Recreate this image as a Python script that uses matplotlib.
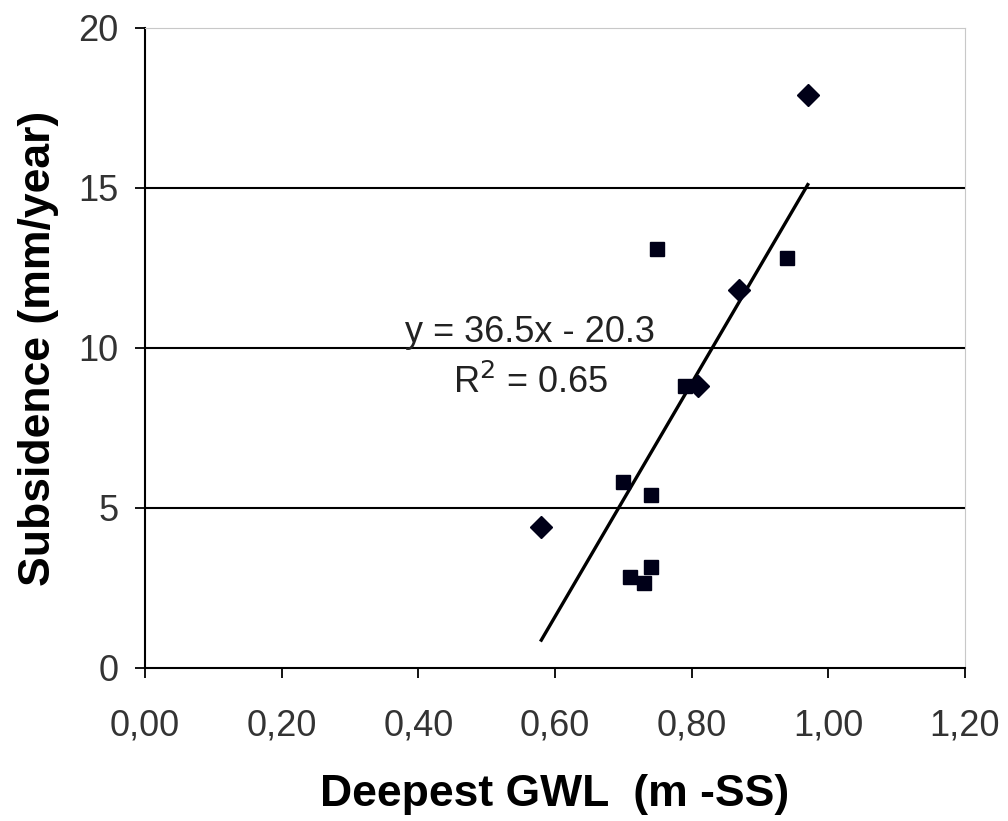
import matplotlib.pyplot as plt
from matplotlib.ticker import FuncFormatter

plt.rcParams['font.family'] = ['Liberation Sans', 'DejaVu Sans']

# data
diamond_x = [0.97, 0.87, 0.81, 0.58]
diamond_y = [17.9, 11.8, 8.8, 4.4]
square_x = [0.75, 0.94, 0.79, 0.70, 0.74, 0.71, 0.73, 0.74]
square_y = [13.1, 12.8, 8.8, 5.8, 5.4, 2.85, 2.65, 3.15]

# trendline as printed on the chart
slope, intercept = 36.5, -20.3
trend_x = [0.58, 0.97]

fig = plt.figure(figsize=(10.08, 8.21), dpi=100)
ax = fig.add_axes([0.1438, 0.1864, 0.8135, 0.7795])

ax.plot(square_x, square_y, linestyle='none', marker='s', markersize=10.5,
        color='#000018', zorder=3)
ax.plot(diamond_x, diamond_y, linestyle='none', marker='D', markersize=11.5,
        color='#000018', zorder=3)
ax.plot(trend_x, [slope * v + intercept for v in trend_x], color='black',
        linewidth=2.4, zorder=2)

ax.text(0.564, 10.2, f'y = {slope}x - {abs(intercept)}', fontsize=26,
        ha='center', va='baseline', color='#222222')
ax.text(0.564, 8.6, r'R$^2$ = 0.65', fontsize=26, ha='center', va='baseline',
        color='#222222')

ax.set_xlim(0, 1.2)
ax.set_ylim(0, 20)
ax.set_xticks([0, 0.2, 0.4, 0.6, 0.8, 1.0, 1.2])
ax.set_yticks([0, 5, 10, 15, 20])
ax.xaxis.set_major_formatter(FuncFormatter(lambda v, p: f'{v:.2f}'.replace('.', ',')))

for yv in [5, 10, 15]:
    ax.axhline(yv, color='black', linewidth=1.5, zorder=1)

ax.spines['left'].set_color('black')
ax.spines['bottom'].set_color('black')
ax.spines['left'].set_linewidth(1.5)
ax.spines['bottom'].set_linewidth(1.5)
ax.spines['top'].set_color('#c8c8c8')
ax.spines['right'].set_color('#c8c8c8')

ax.tick_params(axis='both', labelsize=26, labelcolor='#333333', length=7,
               width=1.3, direction='out')
ax.tick_params(axis='x', pad=22)
ax.tick_params(axis='y', pad=12)

ax.set_xlabel('Deepest GWL  (m -SS)', fontsize=32, fontweight='bold', labelpad=22)
ax.set_ylabel('Subsidence (mm/year)', fontsize=32, fontweight='bold', labelpad=14)

fig.savefig('out.png', dpi=100)
